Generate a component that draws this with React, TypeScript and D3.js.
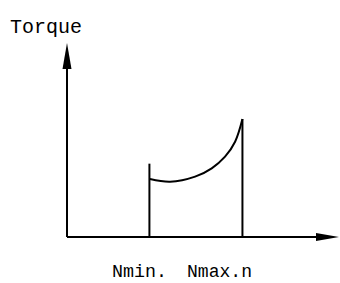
import * as d3 from "d3";

// speed axis (arbitrary units) and torque values
const speedMax = 10;
const torqueMax = 10;
const nMin = 3.03;
const nMax = 6.45;
const nMinTop = 3.78;
const nMaxTop = 6.08;
const curveSpeed = [3.05, 3.79, 4.71, 5.32, 5.81, 6.18, 6.45];
const curveTorque = [2.99, 2.85, 3.11, 3.54, 4.14, 4.91, 6.08];
const xLabel = ["Nmin.", "Nmax.n"];
const yLabel = "Torque";

const W = 340;
const H = 283;
const font = "'Liberation Mono', 'DejaVu Sans Mono', monospace";

export default function App() {
  const x = d3.scaleLinear().domain([0, speedMax]).range([67, 339]);
  const y = d3.scaleLinear().domain([0, torqueMax]).range([237, 43]);

  const curve = d3
    .line<number>()
    .x((d, i) => x(curveSpeed[i]))
    .y((d) => y(d))
    .curve(d3.curveCatmullRom);

  const x0 = x(0);
  const y0 = y(0);

  return (
    <svg
      width={W}
      height={H}
      style={{ position: "absolute", left: 0, top: 0, background: "#fff" }}
    >
      {/* axes */}
      <line x1={x0} y1={y0} x2={x(speedMax) - 20} y2={y0} stroke="#000" strokeWidth={2} />
      <path
        d={`M${x(speedMax)},${y0} L${x(speedMax) - 23},${y0 - 4} L${x(speedMax) - 23},${y0 + 4} Z`}
        fill="#000"
      />
      <line x1={x0} y1={y0} x2={x0} y2={y(torqueMax) + 22} stroke="#000" strokeWidth={2} />
      <path
        d={`M${x0},${y(torqueMax)} L${x0 - 4.5},${y(torqueMax) + 26} L${x0 + 4.5},${y(torqueMax) + 26} Z`}
        fill="#000"
      />

      {/* speed limits */}
      <line x1={x(nMin)} y1={y0} x2={x(nMin)} y2={y(nMinTop)} stroke="#000" strokeWidth={2} />
      <line x1={x(nMax)} y1={y0} x2={x(nMax)} y2={y(nMaxTop)} stroke="#000" strokeWidth={2} />
      <path d={curve(curveTorque) ?? ""} fill="none" stroke="#000" strokeWidth={2} />

      <text x={10} y={33} fontFamily={font} fontSize={19.5} fill="#000" textLength={72} lengthAdjust="spacingAndGlyphs">
        {yLabel}
      </text>
      <text x={112} y={277} fontFamily={font} fontSize={18.5} fill="#000" textLength={55} lengthAdjust="spacingAndGlyphs">
        {xLabel[0]}
      </text>
      <text x={187} y={277} fontFamily={font} fontSize={18.5} fill="#000" textLength={65} lengthAdjust="spacingAndGlyphs">
        {xLabel[1]}
      </text>
    </svg>
  );
}
